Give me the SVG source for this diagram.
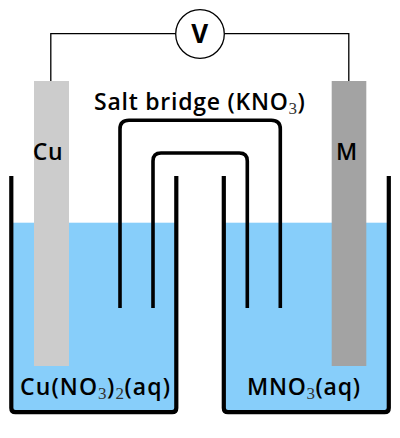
<svg xmlns="http://www.w3.org/2000/svg" width="400" height="438" viewBox="0 0 400 438">
<style>
.t{font-family:"Open Sans","Liberation Sans",sans-serif;font-size:23px;font-weight:600;fill:#000;letter-spacing:.75px}
.s{font-family:"Liberation Serif",serif;font-size:17px;font-weight:400;fill:#333;letter-spacing:.5px}
.beaker{fill:none;stroke:#000;stroke-width:4.200;stroke-linejoin:round}
.bridge{fill:none;stroke:#000;stroke-width:3.600}
.wire{fill:none;stroke:#000;stroke-width:1.300}
.water{fill:#87cefa}
</style>
<g id="left-water"><rect class="water" x="11" y="222.700" width="166" height="189"/></g>
<g id="right-water"><rect class="water" x="223.500" y="222.700" width="165.500" height="189"/></g>
<g id="cu-electrode"><rect x="34" y="81" width="35" height="285" fill="#ccc"/><text class="t" x="48" y="160" text-anchor="middle">Cu</text></g>
<g id="m-electrode"><rect x="331.700" y="81" width="34.600" height="285" fill="#a3a3a3"/><text class="t" x="347" y="160" text-anchor="middle">M</text></g>
<g id="connectors">
<path class="wire" d="M50.800 81V33.700H176"/>
<path class="wire" d="M224.300 33.700H348.800V81"/>
<path class="bridge" d="M120 308V129Q120 120.300 129 120.300H271.300Q280.300 120.300 280.300 129V308"/>
<path class="bridge" d="M153 308V161Q153 153 161 153H239.300Q247.300 153 247.300 161V308"/>
</g>
<g id="left-beaker"><path class="beaker" d="M11.300 176V408Q11.300 412.200 15.500 412.200H172.100Q176.300 412.200 176.300 408V176"/></g>
<g id="right-beaker"><path class="beaker" d="M223.800 176V408Q223.800 412.200 228 412.200H384.600Q388.800 412.200 388.800 408V176"/></g>
<g id="voltmeter"><circle cx="200" cy="34" r="24.300" fill="#fff" stroke="#000" stroke-width="1.300"/><text class="t" x="200" y="43" text-anchor="middle" style="font-size:26px;font-weight:700">V</text></g>
<g id="salt-bridge-label"><text class="t" x="94" y="110">Salt bridge (KNO<tspan class="s" dy="4">3</tspan><tspan dy="-4">)</tspan></text></g>
<g id="left-label"><text class="t" x="20" y="395" style="letter-spacing:1.100px">Cu(NO<tspan class="s" dy="4">3</tspan><tspan dy="-4">)</tspan><tspan class="s" dy="4">2</tspan><tspan dy="-4">(aq)</tspan></text></g>
<g id="right-label"><text class="t" x="247" y="395">MNO<tspan class="s" dy="4">3</tspan><tspan dy="-4">(aq)</tspan></text></g>
</svg>
